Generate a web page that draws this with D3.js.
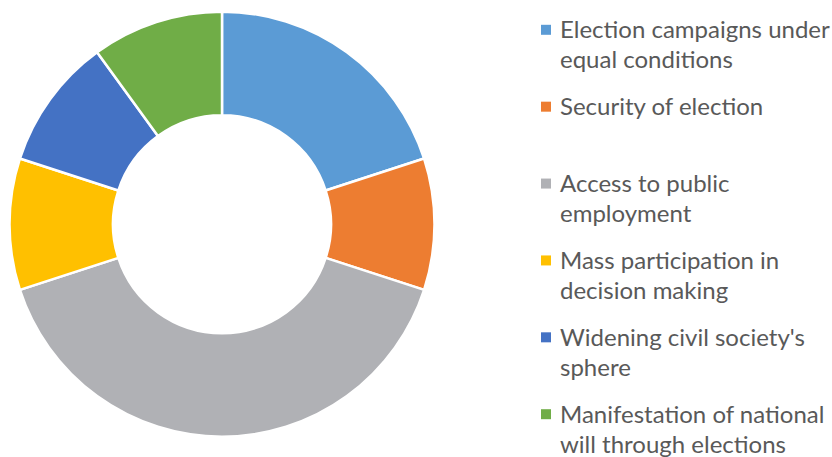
<!DOCTYPE html>
<html>
<head>
<meta charset="utf-8">
<script src="https://cdn.jsdelivr.net/npm/d3@7"></script>
<style>
  body { margin: 0; background: #fff; }
  .legend-label { font-family: Lato, "Open Sans", sans-serif; font-size: 24px; fill: #595959; }
</style>
</head>
<body>
<svg id="chart"></svg>
<script>
// data
const categories = [
  'Election campaigns under equal conditions',
  'Security of election',
  'Access to public employment',
  'Mass participation in decision making',
  "Widening civil society's sphere",
  'Manifestation of national will through elections'
];
const legendLines = [
  ['Election campaigns under', 'equal conditions'],
  ['Security of election'],
  ['Access to public', 'employment'],
  ['Mass participation in', 'decision making'],
  ["Widening civil society's", 'sphere'],
  ['Manifestation of national', 'will through elections']
];
const values = [20, 10, 40, 10, 10, 10];
const colors = ['#5B9BD5', '#ED7D31', '#B0B1B5', '#FFC000', '#4472C4', '#70AD47'];

const width = 832, height = 457;
const cx = 222, cy = 224.2, outerR = 212.5, innerR = 109;

const svg = d3.select('#chart')
    .attr('width', width)
    .attr('height', height);

const color = d3.scaleOrdinal().domain(categories).range(colors);

const pie = d3.pie().sort(null).value(d => d.value);
const arc = d3.arc().innerRadius(innerR).outerRadius(outerR);

const data = categories.map((c, i) => ({ name: c, value: values[i], lines: legendLines[i] }));

// donut
svg.append('g')
    .attr('transform', `translate(${cx},${cy})`)
  .selectAll('path')
    .data(pie(data))
  .join('path')
    .attr('d', arc)
    .attr('fill', d => color(d.data.name))
    .attr('stroke', '#fff')
    .attr('stroke-width', 2.5)
    .attr('stroke-linejoin', 'round');

// legend
const legendY = d3.scalePoint().domain(categories).range([38.3, 422.7]);

const item = svg.append('g')
  .selectAll('g')
    .data(data)
  .join('g')
    .attr('transform', d => `translate(541,${legendY(d.name)})`);

item.append('rect')
    .attr('y', -13.5)
    .attr('width', 10)
    .attr('height', 10)
    .attr('fill', d => color(d.name));

item.append('text')
    .attr('class', 'legend-label')
    .attr('x', 19)
  .selectAll('tspan')
    .data(d => d.lines)
  .join('tspan')
    .attr('x', 19)
    .attr('y', (d, i) => i * 30)
    .text(d => d);
</script>
</body>
</html>
